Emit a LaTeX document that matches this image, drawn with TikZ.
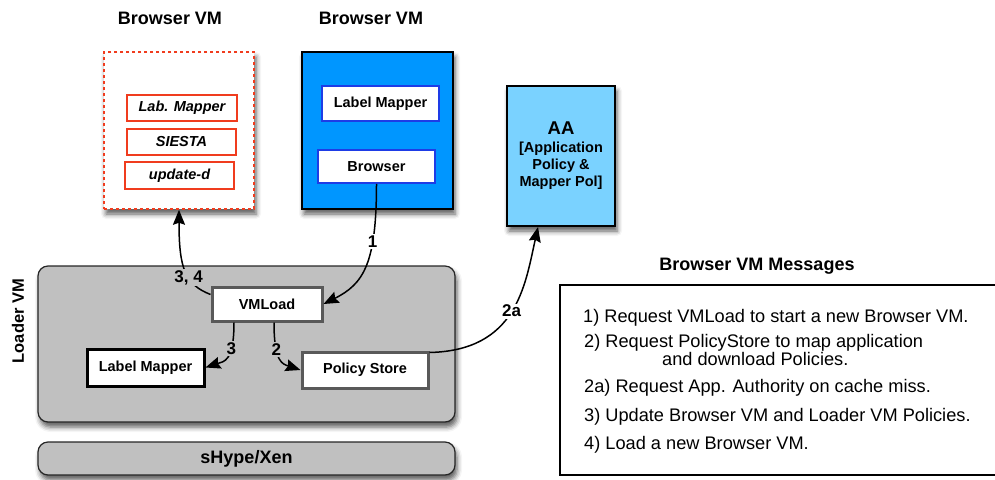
\documentclass[tikz,border=0pt]{standalone}
\usepackage{fontspec}
\setmainfont{Liberation Sans}
\usetikzlibrary{arrows.meta}
\usetikzlibrary{shadows.blur}
\definecolor{vmblue}{RGB}{0,150,255}
\definecolor{aablue}{RGB}{122,210,255}
\definecolor{vmred}{RGB}{240,60,30}
\definecolor{inblue}{RGB}{30,60,230}
\definecolor{pnlgray}{RGB}{192,192,192}
\colorlet{edgegray}{black!65}
\tikzset{>={Stealth[length=15pt,width=12pt,inset=2pt]}}
\newcommand{\headfont}{\fontsize{18}{21}\selectfont\bfseries}
\newcommand{\boxfont}{\fontsize{14.5}{17}\selectfont\bfseries}
\newcommand{\lblfont}{\fontsize{17}{20}\selectfont\bfseries}
\newcommand{\msgfont}{\fontsize{18.2}{16}\selectfont}
\tikzset{
  shadowed/.style = {blur shadow={shadow xshift=2pt, shadow yshift=-5pt,
      shadow blur radius=5pt, shadow opacity=65}},
  heading/.style  = {font=\headfont, inner sep=0pt},
  redbox/.style   = {draw=vmred, line width=1.5pt, fill=white, inner sep=0pt,
      minimum width=109pt, minimum height=26pt, font=\boxfont\itshape},
  bluebox/.style  = {draw=inblue, line width=1.5pt, fill=white, inner sep=0pt,
      minimum width=117pt, minimum height=34pt, font=\boxfont},
  loadbox/.style  = {line width=3pt, fill=white, inner sep=0pt,
      minimum height=35pt, font=\boxfont},
  panel/.style    = {draw=black!85, line width=1.2pt, fill=pnlgray,
      rounded corners=10pt, shadowed},
  msg/.style      = {font=\msgfont, anchor=base west, inner sep=0pt, align=left},
  conn/.style     = {->, line width=1.5pt},
  lbl/.style      = {font=\lblfont, inner sep=1.5pt}
}

\begin{document}
\begin{tikzpicture}[x=1pt,y=-1pt]
  \useasboundingbox (0,0) rectangle (995,479);
  % headings
  \node[heading] (h1) at (170,18) {Browser VM};
  \node[heading] (h2) at (371,18) {Browser VM};
  \node[heading] (h3) at (757,266) {Browser VM Messages};
  % browser VM to be loaded (dashed)
  \node[draw=vmred, dashed, line width=1.5pt, fill=white, shadowed,
        minimum width=150pt, minimum height=157pt] (newvm) at (179,130.5) {};
  \node[redbox, minimum width=110pt] (labmap) at (182,108) {Lab. Mapper};
  \node[redbox] (siesta) at (181.5,142) {SIESTA};
  \node[redbox, minimum height=27pt] (updd) at (179.5,175.5) {update-d};
  % running browser VM
  \node[draw, line width=2.5pt, fill=vmblue, shadowed,
        minimum width=151pt, minimum height=157pt] (bvm) at (377.5,130.5) {};
  \node[bluebox, minimum height=35pt] (bmap) at (380.5,103.5) {Label Mapper};
  \node[bluebox, minimum height=33pt] (browser) at (376.5,166.5) {Browser};
  % application authority
  \node[draw, line width=2pt, fill=aablue, shadowed, align=center,
        minimum width=108pt, minimum height=140pt, inner sep=0pt,
        font=\boxfont] (aa) at (561,156)
        {{\fontsize{18.5}{18}\selectfont AA}\\[1pt][Application\\Policy \&\\Mapper Pol]};
  % loader VM and hypervisor
  \node[panel, minimum width=417pt, minimum height=156pt] (loader) at (246.5,344) {};
  \node[heading, font=\fontsize{16.5}{18}\selectfont\bfseries, rotate=90] (ltxt) at (18,321) {Loader VM};
  \node[panel, minimum width=417pt, minimum height=33pt, font=\headfont] (xen) at (246.5,458.5) {sHype/Xen};
  \node[loadbox, draw=edgegray, minimum width=110pt, minimum height=34pt] (vmload) at (267,304) {VMLoad};
  \node[loadbox, draw=black, minimum width=117pt, minimum height=37pt] (lmap) at (145.5,367.5) {Label Mapper};
  \node[loadbox, draw=edgegray, minimum width=126pt, minimum height=36pt] (policy) at (365,370) {Policy Store};
  % messages (open on the right)
  \draw[line width=1.2pt] (995,285) -- (560,285) -- (560,475) -- (995,475);
  \node[msg] (m1) at (583,322) {1) Request VMLoad to start a new Browser VM.};
  \node[msg] (m2) at (584,365) {2) Request PolicyStore to map application\\
    \hspace*{78pt}and download Policies.};
  \node[msg] (m3) at (584,392) {2a) Request App. Authority on cache miss.};
  \node[msg] (m4) at (584,421) {3) Update Browser VM and Loader VM Policies.};
  \node[msg] (m5) at (584,449) {4) Load a new Browser VM.};
  % message flow
  \draw[conn] (browser.south) .. controls +(0,80) and +(40,-20) .. (vmload.east)
    node[lbl, fill=white, pos=0.3] {1};
  \draw[conn] ([yshift=-9pt]vmload.north west) .. controls +(-25,-10) and +(0,60) .. (newvm.south)
    node[lbl, fill=pnlgray, pos=0.4] {3, 4};
  \draw[conn] ([xshift=-33pt]vmload.south) .. controls +(0,40) and +(18,-6) .. (lmap.east)
    node[lbl, fill=pnlgray, pos=0.3] {3};
  \draw[conn] ([xshift=7pt]vmload.south) .. controls +(0,40) and +(-18,-6) .. (policy.west)
    node[lbl, fill=pnlgray, pos=0.3] {2};
  \draw[conn] ([yshift=-2pt]policy.north east) .. controls +(87,-2) and +(-13,59) .. ([xshift=-23pt]aa.south)
    node[lbl, fill=white, pos=0.5] {2a};
\end{tikzpicture}
\end{document}
